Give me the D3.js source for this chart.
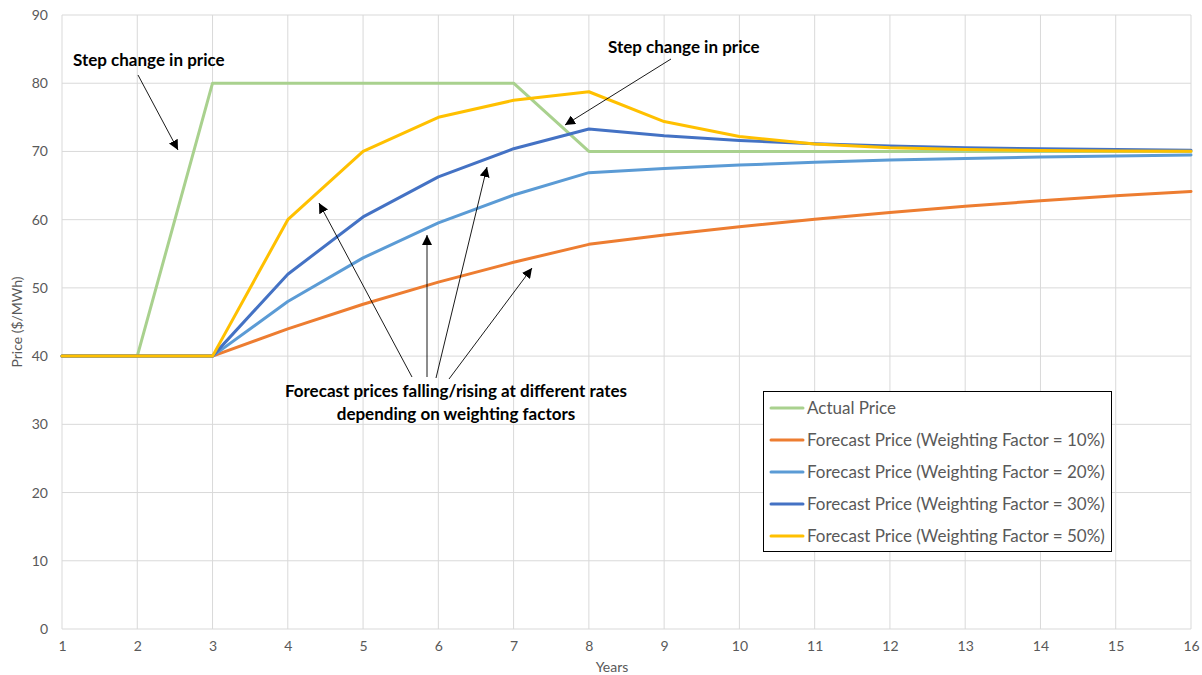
<!DOCTYPE html>
<html><head><meta charset="utf-8">
<script src="https://cdn.jsdelivr.net/npm/d3@7"></script>
<style>body{margin:0;background:#fff}svg{display:block}text{font-family:Lato,"Open Sans",sans-serif}</style>
</head><body>
<svg id="c" width="1202" height="675"></svg>
<script>
const years = [1,2,3,4,5,6,7,8,9,10,11,12,13,14,15,16];
const yTicks = [0,10,20,30,40,50,60,70,80,90];
const seriesNames = ["Actual Price","Forecast Price (Weighting Factor = 10%)","Forecast Price (Weighting Factor = 20%)","Forecast Price (Weighting Factor = 30%)","Forecast Price (Weighting Factor = 50%)"];
const actualPrice = [40,40,80,80,80,80,80,70,70,70,70,70,70,70,70,70];
const forecast10 = [40,40,40,44,47.6,50.84,53.76,56.38,57.74,58.97,60.07,61.06,61.96,62.76,63.49,64.14];
const forecast20 = [40,40,40,48,54.4,59.52,63.62,66.89,67.51,68.01,68.41,68.73,68.98,69.19,69.35,69.48];
const forecast30 = [40,40,40,52,60.4,66.28,70.40,73.28,72.29,71.61,71.12,70.79,70.55,70.39,70.27,70.19];
const forecast50 = [40,40,40,60,70,75,77.5,78.75,74.38,72.19,71.09,70.55,70.27,70.14,70.07,70.03];
const colors = ["#A9D18E","#ED7D31","#5B9BD5","#4472C4","#FFC000"];
const allSeries = [actualPrice, forecast10, forecast20, forecast30, forecast50];

const svg = d3.select("#c");
const x = d3.scaleLinear().domain([1,16]).range([62,1191]);
const y = d3.scaleLinear().domain([0,90]).range([629,15]);

// grid
svg.append("g").selectAll("line").data(yTicks).join("line")
  .attr("x1",x(1)).attr("x2",x(16)).attr("y1",d=>y(d)).attr("y2",d=>y(d))
  .attr("stroke","#d9d9d9").attr("stroke-width",1);
svg.append("g").selectAll("line").data(years).join("line")
  .attr("x1",d=>x(d)).attr("x2",d=>x(d)).attr("y1",y(0)).attr("y2",y(90))
  .attr("stroke","#d9d9d9").attr("stroke-width",1);

// axes labels
const yAxis = svg.append("g").attr("transform",`translate(${x(1)},0)`)
  .call(d3.axisLeft(y).tickValues(yTicks).tickSize(0).tickPadding(14));
yAxis.select(".domain").remove();
yAxis.selectAll("text").attr("fill","#595959").style("font-size","14px").style("font-family","Lato,sans-serif");
const xAxis = svg.append("g").attr("transform",`translate(0,${y(0)})`)
  .call(d3.axisBottom(x).tickValues(years).tickFormat(d3.format("d")).tickSize(0).tickPadding(12));
xAxis.select(".domain").remove();
xAxis.selectAll("text").attr("fill","#595959").style("font-size","14px").style("font-family","Lato,sans-serif");

svg.append("text").attr("transform","translate(22,322) rotate(-90)").attr("text-anchor","middle")
  .attr("fill","#595959").style("font-size","14px").text("Price ($/MWh)");
svg.append("text").attr("x",612).attr("y",672).attr("text-anchor","middle")
  .attr("fill","#595959").style("font-size","14px").text("Years");

// lines
const line = d3.line().x((d,i)=>x(years[i])).y(d=>y(d));
svg.append("g").selectAll("path").data(allSeries).join("path")
  .attr("d",line).attr("fill","none").attr("stroke",(d,i)=>colors[i])
  .attr("stroke-width",3).attr("stroke-linejoin","round").attr("stroke-linecap","round");

// arrows
const defs = svg.append("defs");
defs.append("marker").attr("id","ah").attr("viewBox","0 0 10 10").attr("refX",10).attr("refY",5)
  .attr("markerWidth",10).attr("markerHeight",10).attr("markerUnits","userSpaceOnUse").attr("orient","auto")
  .append("path").attr("d","M0,0 L10,5 L0,10 Z").attr("fill","#000");
const arrows = [[138,75,178,150],[671,59,565,125],[412,377,319,203],[427,377,427,235],[436,378,487,167],[449,379,532,268]];
svg.append("g").selectAll("line").data(arrows).join("line")
  .attr("x1",d=>d[0]).attr("y1",d=>d[1]).attr("x2",d=>d[2]).attr("y2",d=>d[3])
  .attr("stroke","#000").attr("stroke-width",0.9).attr("marker-end","url(#ah)");

const ann = svg.append("g").style("font-weight","bold").style("font-size","17px").attr("fill","#000");
ann.append("text").attr("x",73).attr("y",66).text("Step change in price");
ann.append("text").attr("x",608).attr("y",53).text("Step change in price");
ann.append("text").attr("x",456).attr("y",397).attr("text-anchor","middle").text("Forecast prices falling/rising at different rates");
ann.append("text").attr("x",456).attr("y",420).attr("text-anchor","middle").text("depending on weighting factors");

// legend
const lg = svg.append("g");
lg.append("rect").attr("x",763.5).attr("y",391.5).attr("width",348).attr("height",160)
  .attr("fill","#fff").attr("stroke","#000").attr("stroke-width",1);
const items = lg.selectAll("g").data(seriesNames).join("g")
  .attr("transform",(d,i)=>`translate(0,${408+i*32})`);
items.append("line").attr("x1",771).attr("x2",803).attr("y1",0).attr("y2",0)
  .attr("stroke",(d,i)=>colors[i]).attr("stroke-width",3).attr("stroke-linecap","round");
items.append("text").attr("x",807).attr("y",6).attr("fill","#595959").style("font-size","17px").text(d=>d);
</script>
</body></html>
